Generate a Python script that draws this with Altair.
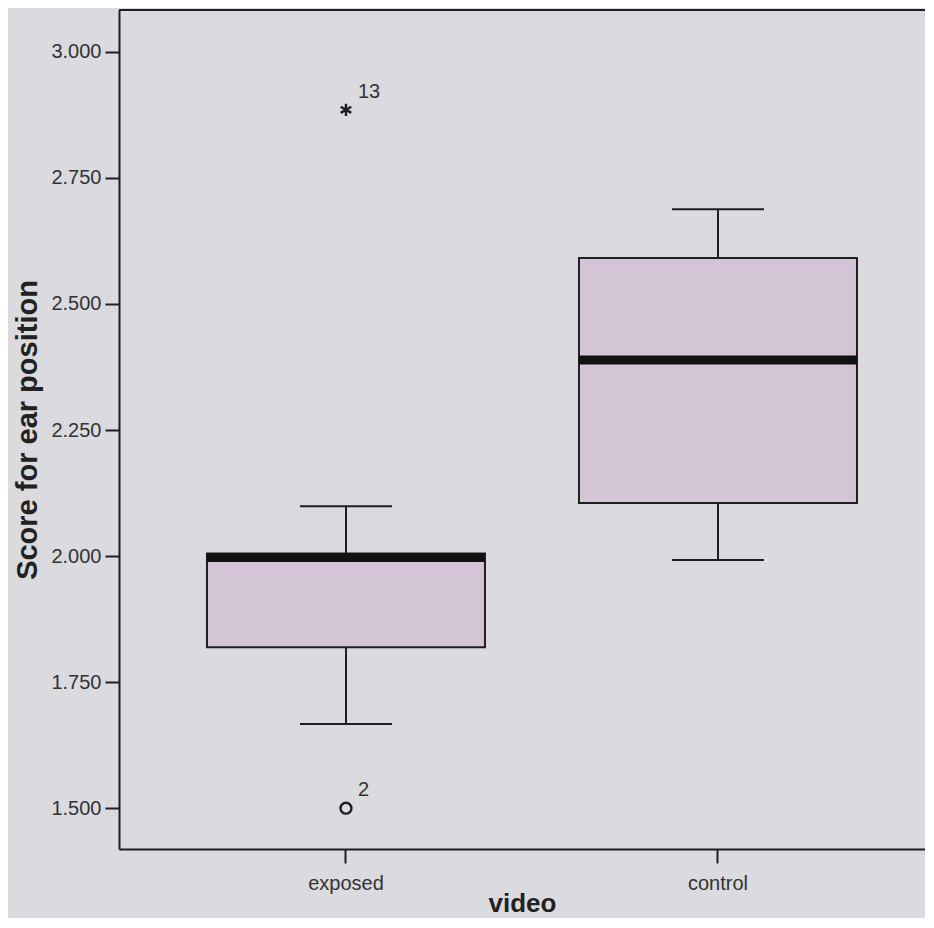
import altair as alt
import pandas as pd

categories = ["exposed", "control"]
lower = [1.667, 1.992]
q1 = [1.819, 2.105]
median = [1.997, 2.389]
q3 = [2.005, 2.591]
upper = [2.099, 2.688]

outlier_video = ["exposed", "exposed"]
outlier_value = [2.885, 1.500]
outlier_label = ["13", "2"]
outlier_kind = ["extreme", "outlier"]

y_ticks = [1.5, 1.75, 2.0, 2.25, 2.5, 2.75, 3.0]

box_df = pd.DataFrame({"video": categories, "lower": lower, "q1": q1,
                       "median": median, "q3": q3, "upper": upper})
out_df = pd.DataFrame({"video": outlier_video, "value": outlier_value,
                       "label": outlier_label, "kind": outlier_kind})

INK = "#1f1f22"
BG = "#dbdadf"
FILL = "#d3c5d5"
FONT = "Liberation Sans"
W, H = 806, 839
BOXW = 278

x_enc = alt.X("video:N", sort=categories, title="video",
              scale=alt.Scale(paddingInner=0, paddingOuter=0.0833, align=0.661),
              axis=alt.Axis(labelAngle=0, labelFont=FONT, labelFontSize=20,
                            labelColor="#333333", labelPadding=10,
                            tickSize=14, tickWidth=2, tickColor=INK,
                            domainColor=INK, domainWidth=2,
                            titleFont=FONT, titleFontSize=26, titleFontWeight="bold",
                            titleColor="#222222", titleY=62,
                            titleBaseline="alphabetic"))

y_scale = alt.Scale(domain=[1.419, 3.083], nice=False, zero=False)
y_axis = alt.Axis(values=y_ticks, format=".3f", grid=False,
                  labelFont=FONT, labelFontSize=20, labelColor="#333333",
                  labelPadding=4, tickSize=14, tickWidth=2, tickColor=INK,
                  domainColor=INK, domainWidth=2,
                  title="Score for ear position", titleFont=FONT,
                  titleFontSize=29, titleFontWeight="bold", titleColor="#222222",
                  titleX=-83, titleBaseline="alphabetic")

base = alt.Chart(box_df)

whisk_lo = base.mark_rule(color=INK, strokeWidth=2).encode(
    x=x_enc, y=alt.Y("lower:Q", scale=y_scale, axis=y_axis), y2="q1:Q")
whisk_hi = base.mark_rule(color=INK, strokeWidth=2).encode(
    x=x_enc, y=alt.Y("q3:Q", scale=y_scale, axis=y_axis), y2="upper:Q")
cap_lo = base.mark_tick(color=INK, thickness=2, size=92, orient="horizontal",
                        opacity=1).encode(
    x=x_enc, y=alt.Y("lower:Q", scale=y_scale, axis=y_axis))
cap_hi = base.mark_tick(color=INK, thickness=2, size=92, orient="horizontal",
                        opacity=1).encode(
    x=x_enc, y=alt.Y("upper:Q", scale=y_scale, axis=y_axis))
box = base.mark_bar(fill=FILL, stroke=INK, strokeWidth=2, size=BOXW).encode(
    x=x_enc, y=alt.Y("q1:Q", scale=y_scale, axis=y_axis), y2="q3:Q")
med = base.mark_tick(color="#111111", thickness=9, size=BOXW, orient="horizontal",
                     opacity=1).encode(
    x=x_enc, y=alt.Y("median:Q", scale=y_scale, axis=y_axis))

star_path = "M0,-1L0,1M-0.866,-0.5L0.866,0.5M-0.866,0.5L0.866,-0.5"
ext = alt.Chart(out_df).transform_filter(alt.datum.kind == "extreme").mark_point(
    shape=star_path, filled=False, stroke=INK, strokeWidth=2.4, size=150, opacity=1).encode(
    x=x_enc, y=alt.Y("value:Q", scale=y_scale, axis=y_axis))
circ = alt.Chart(out_df).transform_filter(alt.datum.kind == "outlier").mark_point(
    shape="circle", filled=False, stroke=INK, strokeWidth=2.4, size=120, opacity=1).encode(
    x=x_enc, y=alt.Y("value:Q", scale=y_scale, axis=y_axis))
labels = alt.Chart(out_df).mark_text(
    align="left", baseline="middle", dx=12, dy=-18, font=FONT, fontSize=20,
    color="#333333").encode(
    x=x_enc, y=alt.Y("value:Q", scale=y_scale, axis=y_axis), text="label:N")

top_line = alt.Chart(box_df).mark_rule(color=INK, strokeWidth=2).encode(
    x=alt.value(0), x2=alt.value(W), y=alt.value(0))

chart = alt.layer(box, whisk_lo, whisk_hi, cap_lo, cap_hi, med, ext, circ, labels,
                  top_line).properties(
    width=W, height=H, background=BG,
    autosize=alt.AutoSizeParams(type="none"),
    padding={"left": 111, "top": 2, "right": 0, "bottom": 69},
).configure_view(stroke=None)

chart.save("out.html", embed_options={"renderer": "svg", "actions": False})
